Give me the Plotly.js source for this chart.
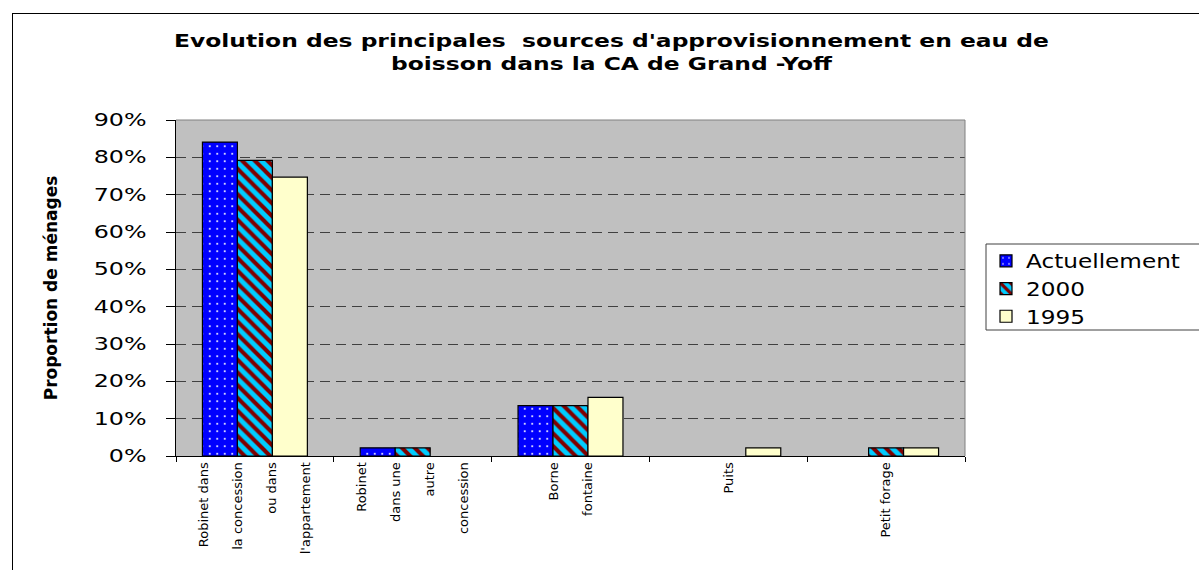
<!DOCTYPE html>
<html>
<head>
<meta charset="utf-8">
<script src="https://cdn.plot.ly/plotly-3.0.1.min.js"></script>
<style>
  html, body { margin: 0; padding: 0; background: #fff; overflow: hidden; }
  #chart { position: absolute; left: 0; top: 0; width: 1199px; height: 570px; }
  #frame { position: absolute; left: 12px; top: 13px; width: 1400px; height: 800px;
           border: 1px solid #000; box-sizing: border-box; pointer-events: none; z-index: 5; }
  /* wide lettering for heading, legend and percent labels */
  #chart .gtitle { transform-box: fill-box; transform-origin: center; transform: scaleX(1.3); }
  #chart .legendtext { transform-box: fill-box; transform-origin: 0 50%; transform: scaleX(1.22); }
  #chart .legend .scrollbox { clip-path: none !important; }
  #chart g.ytick { transform-box: fill-box; transform-origin: 100% 50%; transform: scaleX(1.4); }
</style>
</head>
<body>
<div id="chart"></div>
<div id="frame"></div>
<script>
// Water supply sources (share of households)
const categories = ['robinet_concession', 'robinet_autre', 'borne_fontaine', 'puits', 'petit_forage'];
const tickLines = [
  ['Robinet dans', 'la concession', 'ou dans', "l'appartement"],
  ['Robinet', 'dans une', 'autre', 'concession'],
  ['Borne', 'fontaine'],
  ['Puits'],
  ['Petit forage']
];
const seriesNames = ['Actuellement', '2000', '1995'];
const actuellement = [0.841, 0.022, 0.135, null, null];
const an2000 = [0.792, 0.022, 0.135, null, 0.022];
const an1995 = [0.747, null, 0.157, 0.022, 0.022];

// wrapped labels, one spacer line between each printed line
const tickText = tickLines.map(lines => lines.join('<br>\u00A0<br>'));

const FONT = 'DejaVu Sans';
const outline = { color: '#000000', width: 1.2 };

const traces = [
  {
    type: 'bar', name: seriesNames[0], x: categories, y: actuellement,
    marker: {
      color: '#0000FF', line: outline,
      pattern: { shape: '.', bgcolor: '#0000FF', fgcolor: '#FFFFFF', size: 7.5, solidity: 0.06, fillmode: 'replace' }
    }
  },
  {
    type: 'bar', name: seriesNames[1], x: categories, y: an2000,
    marker: {
      color: '#00CCFF', line: outline,
      pattern: { shape: '\\', bgcolor: '#00CCFF', fgcolor: '#800000', size: 9, solidity: 0.45, fillmode: 'replace' }
    }
  },
  {
    type: 'bar', name: seriesNames[2], x: categories, y: an1995,
    marker: { color: '#FFFFCC', line: outline }
  }
];

// legend frame edges in plot-area fractions
const plotL = 176, plotR = 965, plotT = 120, plotB = 456;
const legL = 986, legR = 1215, legT = 244, legB = 330;

const layout = {
  width: 1199, height: 570,
  margin: { l: plotL, r: 1199 - plotR, t: plotT, b: 570 - plotB, pad: 0 },
  paper_bgcolor: 'rgba(0,0,0,0)',
  plot_bgcolor: '#C0C0C0',
  barmode: 'group',
  bargap: 0.335,
  bargroupgap: 0,
  hovermode: false,
  showlegend: true,
  title: {
    text: "Evolution des principales  sources d'approvisionnement en eau de<br>boisson dans la CA de Grand -Yoff",
    font: { family: FONT, size: 18, weight: 'bold', color: '#000' },
    xref: 'container', x: 0.51, xanchor: 'center',
    yref: 'container', y: 1 - 47 / 570, yanchor: 'top'
  },
  xaxis: {
    type: 'category',
    tickmode: 'array', tickvals: categories, ticktext: tickText,
    tickangle: -90, tickson: 'boundaries',
    ticks: 'outside', ticklen: 5, tickwidth: 1, tickcolor: '#000',
    showline: true, linecolor: '#000', linewidth: 1,
    showgrid: false, zeroline: false,
    tickfont: { family: FONT, size: 13, color: '#000' },
    fixedrange: true
  },
  yaxis: {
    range: [0, 0.9], tick0: 0, dtick: 0.1, tickformat: '.0%',
    ticks: 'outside', ticklen: 9, tickwidth: 1, tickcolor: '#000',
    showline: true, linecolor: '#000', linewidth: 1,
    showgrid: true, gridcolor: '#404040', gridwidth: 1, griddash: '10px,6px',
    zeroline: false,
    ticklabelstandoff: 16,
    tickfont: { family: FONT, size: 17, color: '#000' },
    title: {
      text: 'Proportion de ménages',
      font: { family: FONT, size: 17, weight: 'bold', color: '#000' },
      standoff: 46
    },
    fixedrange: true
  },
  legend: {
    xref: 'container', x: legL / 1199, xanchor: 'left',
    yref: 'container', y: 1 - (legT - 2) / 570, yanchor: 'top',
    bgcolor: 'rgba(0,0,0,0)', borderwidth: 0,
    font: { family: FONT, size: 19, color: '#000' },
    itemwidth: 30, tracegroupgap: 0
  },
  shapes: [
    // plot area frame on the top and right sides
    { type: 'path', xref: 'paper', yref: 'paper', path: 'M0,1H1V0',
      line: { color: '#808080', width: 1 }, layer: 'above' },
    // legend box
    { type: 'rect', xref: 'paper', yref: 'paper',
      x0: (legL - plotL) / (plotR - plotL), x1: (legR - plotL) / (plotR - plotL),
      y0: (plotB - legB) / (plotB - plotT), y1: (plotB - legT) / (plotB - plotT),
      line: { color: '#404040', width: 1 }, fillcolor: '#FFFFFF', layer: 'above' }
  ]
};

Plotly.newPlot('chart', traces, layout, { displayModeBar: false, staticPlot: true });
</script>
</body>
</html>
